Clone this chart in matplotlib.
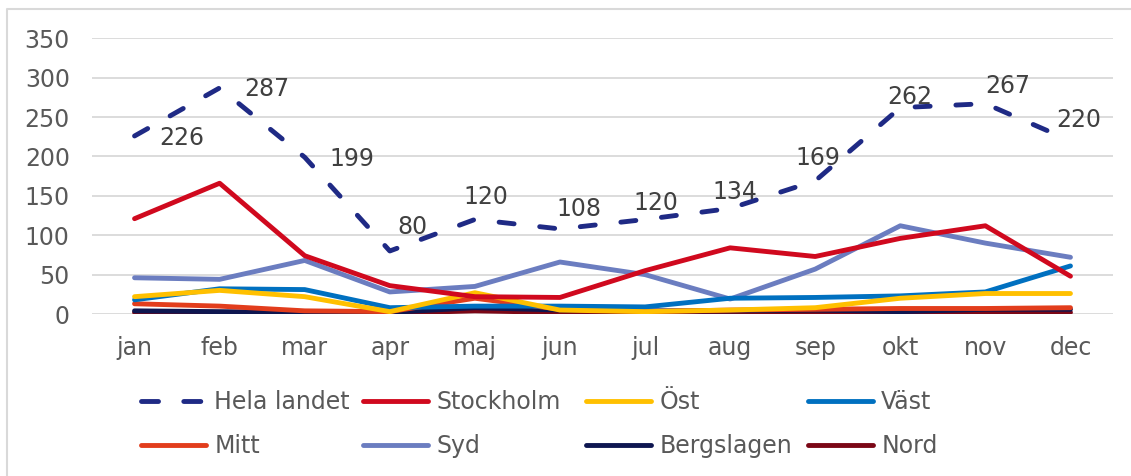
import matplotlib.pyplot as plt
from matplotlib.lines import Line2D

# data
months = ['jan', 'feb', 'mar', 'apr', 'maj', 'jun', 'jul', 'aug', 'sep', 'okt', 'nov', 'dec']
hela_landet = [226, 287, 199, 80, 120, 108, 120, 134, 169, 262, 267, 220]
stockholm = [121, 166, 74, 36, 22, 21, 55, 84, 73, 96, 112, 48]
ost = [22, 30, 22, 3, 27, 5, 3, 5, 8, 20, 26, 26]
vast = [18, 32, 31, 8, 10, 10, 9, 20, 21, 23, 28, 61]
mitt = [13, 10, 4, 3, 20, 6, 3, 5, 6, 7, 7, 8]
syd = [46, 44, 68, 28, 35, 66, 50, 19, 57, 112, 90, 72]
bergslagen = [4, 3, 2, 2, 8, 5, 4, 4, 5, 3, 6, 6]
nord = [2, 1, 1, 1, 4, 2, 2, 2, 3, 1, 2, 2]
yticks = [0, 50, 100, 150, 200, 250, 300, 350]

# where the Hela landet data labels sit, offset in points from each point
label_offsets = [(34, -1.5), (34, -0.7), (34, -1.4), (16.5, 17), (8, 16), (14, 14.5),
                 (8, 12), (3.5, 12), (2, 16.5), (6.5, 8), (16, 13), (6, 15)]

series = [
    ('Stockholm', stockholm, '#D0091E'),
    ('Öst', ost, '#FFC000'),
    ('Väst', vast, '#0070C0'),
    ('Mitt', mitt, '#E23D1C'),
    ('Syd', syd, '#6B7DC0'),
    ('Bergslagen', bergslagen, '#0E1650'),
    ('Nord', nord, '#7B0716'),
]
navy = '#1F2A85'
txt = '#595959'
fs = 17
lw = 3.5
W, H = 1131, 476

fig = plt.figure(figsize=(W / 100, H / 100), dpi=100)
# chart-area border (only left and top are visible in the crop)
fig.add_artist(Line2D([7 / W, 7 / W, 1], [0, 1 - 9 / H, 1 - 9 / H],
                      transform=fig.transFigure, color='#D9D9D9', lw=1.5))

ax = fig.add_axes([92 / W, 1 - 314 / H, (1113 - 92) / W, (314 - 38.3) / H])

x = list(range(len(months)))

# draw from back to front: Nord at the bottom up to Stockholm
for name, vals, col in reversed(series):
    ax.plot(x, vals, color=col, lw=lw, solid_capstyle='round', solid_joinstyle='round', zorder=3)
ax.plot(x, hela_landet, color=navy, lw=lw, dashes=(3.1, 5.3),
        dash_capstyle='round', zorder=4)

for i, v in enumerate(hela_landet):
    ax.annotate(str(v), (i, v), xytext=label_offsets[i], textcoords='offset points',
                ha='center', va='center', fontsize=fs, color='#404040', zorder=5)

ax.set_xlim(-0.5, len(months) - 0.5)
ax.set_ylim(0, 350)
ax.set_yticks(yticks)
ax.set_xticks(x)
ax.set_xticklabels(months)
ax.tick_params(axis='both', length=0, labelsize=fs, labelcolor=txt)
ax.tick_params(axis='y', pad=16)
ax.tick_params(axis='x', pad=16)
ax.grid(axis='y', color='#D9D9D9', lw=1.3, zorder=0)
ax.set_axisbelow(True)
for s in ax.spines.values():
    s.set_visible(False)

# legend: Excel-style equal-width columns, one small legend per column
entries = [('Hela landet', Line2D([], [], color=navy, lw=lw, dashes=(3.5, 5.2), dash_capstyle='round'))]
for name, vals, col in series:
    entries.append((name, Line2D([], [], color=col, lw=lw, solid_capstyle='round')))
col_x = [141, 363, 586, 808]
for c in range(4):
    pair = [entries[c], entries[c + 4]]
    fig.legend([p[1] for p in pair], [p[0] for p in pair], loc='upper left',
               bbox_to_anchor=(col_x[c] / W, 1 - 390 / H), borderaxespad=0, borderpad=0,
               frameon=False, fontsize=fs, labelcolor=txt, handlelength=2.75,
               handletextpad=0.35, labelspacing=0.86)

fig.savefig('out.png', dpi=100)
